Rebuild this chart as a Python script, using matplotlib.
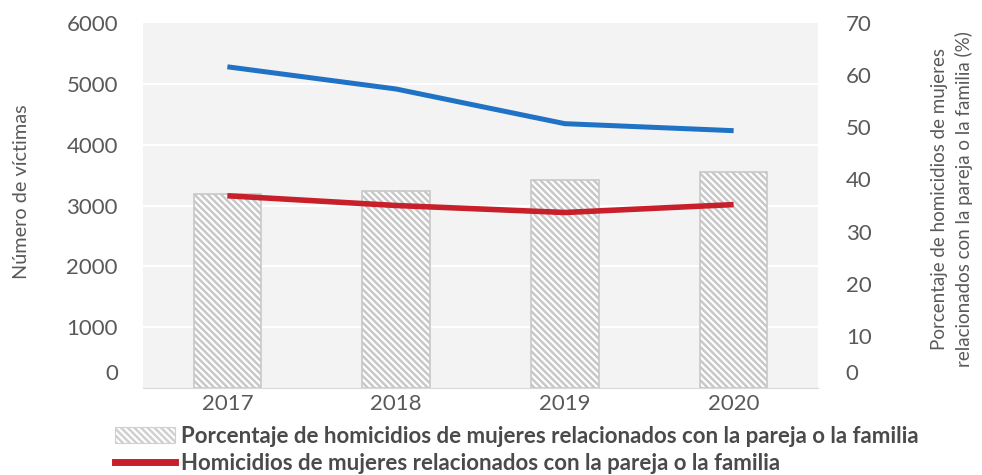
import matplotlib
matplotlib.use("Agg")
import matplotlib.pyplot as plt
import matplotlib.transforms as mtransforms
from matplotlib.lines import Line2D
from matplotlib.patches import Patch
import numpy as np

# datos
years = ["2017", "2018", "2019", "2020"]
total_victims = [5280, 4915, 4345, 4230]
family_victims = [3160, 3000, 2885, 3015]
family_pct = [37.3, 37.7, 39.8, 41.5]

left_ticks = [0, 1000, 2000, 3000, 4000, 5000, 6000]
right_ticks = [0, 10, 20, 30, 40, 50, 60, 70]

plt.rcParams["font.family"] = ["Lato", "DejaVu Sans"]
plt.rcParams["hatch.color"] = "#c4c4c4"
plt.rcParams["hatch.linewidth"] = 1.8

txt_color = "#595959"
bar_hatch = "\\\\\\\\\\"

fig = plt.figure(figsize=(9.82, 4.75), dpi=100)
ax2 = fig.add_axes([143 / 982, 1 - 388 / 475, 675 / 982, 365 / 475])
ax = ax2.twinx()
ax.set_zorder(ax2.get_zorder() + 1)
ax.patch.set_visible(False)
ax2.set_facecolor("#f3f3f3")

x = np.arange(len(years))

# barras de porcentaje (eje derecho)
ax2.bar(x, family_pct, width=0.4, color="white", edgecolor="#c8c8c8",
        hatch=bar_hatch, linewidth=1.2, zorder=2)
ax2.set_ylim(0, 70)
ax2.set_xlim(-0.5, 3.5)

# lineas de cuadricula del eje izquierdo, detras de las barras
grid_tr = mtransforms.blended_transform_factory(ax2.transAxes, ax.transData)
for v in left_ticks[1:-1]:
    ax2.add_line(Line2D([0, 1], [v, v], transform=grid_tr, color="white",
                        lw=1.5, zorder=1))

# lineas (eje izquierdo)
ax.plot(x, total_victims, color="#1f72c4", lw=3.6, solid_capstyle="butt")
ax.plot(x, family_victims, color="#c8202a", lw=4, solid_capstyle="butt")
ax.set_ylim(0, 6000)

# ejes a la izquierda para victimas, a la derecha para porcentaje
ax.yaxis.tick_left()
ax2.yaxis.tick_right()
ax.set_yticks(left_ticks)
ax2.set_yticks(right_ticks)
ax2.set_xticks(x)
ax2.set_xticklabels(years)

ax.tick_params(axis="y", length=0, pad=18, labelsize=16, labelcolor=txt_color)
ax2.tick_params(axis="y", length=0, pad=20, labelsize=16, labelcolor=txt_color)
ax2.tick_params(axis="x", length=0, pad=4, labelsize=16, labelcolor=txt_color)
ax.tick_params(axis="x", bottom=False, labelbottom=False)

# el 0 aparece un poco mas arriba
lift = mtransforms.ScaledTranslation(0, 16 / 100, fig.dpi_scale_trans)
for lbl in (ax.yaxis.get_major_ticks()[0].label1,
            ax2.yaxis.get_major_ticks()[0].label2):
    lbl.set_transform(lbl.get_transform() + lift)

for a in (ax, ax2):
    for s in a.spines.values():
        s.set_visible(False)
ax2.spines["bottom"].set_visible(True)
ax2.spines["bottom"].set_color("#d9d9d9")

fig.text(22 / 982, 1 - 192 / 475, "Número de víctimas", rotation=90,
         ha="center", va="center", fontsize=14.3, color=txt_color)
fig.text(952 / 982, 1 - 199 / 475,
         "Porcentaje de homicidios de mujeres\nrelacionados con la pareja o la familia (%)",
         rotation=90, ha="center", va="center", fontsize=13.5, color=txt_color,
         linespacing=1.45)

handles = [
    Patch(facecolor="white", edgecolor="#d0d0d0", hatch=bar_hatch, lw=0.8),
    Line2D([], [], color="#c8202a", lw=5),
]
labels = [
    "Porcentaje de homicidios de mujeres relacionados con la pareja o la familia",
    "Homicidios de mujeres relacionados con la pareja o la familia",
]
fig.legend(handles, labels, loc="upper left", bbox_to_anchor=(115 / 982, 1 - 426 / 475),
           frameon=False, handlelength=2.7, handleheight=0.75,
           handletextpad=0.25, labelspacing=0.28, borderaxespad=0, borderpad=0,
           labelcolor="#4a4a4a", prop={"weight": "bold", "size": 16})

fig.savefig("out.png", dpi=100)
